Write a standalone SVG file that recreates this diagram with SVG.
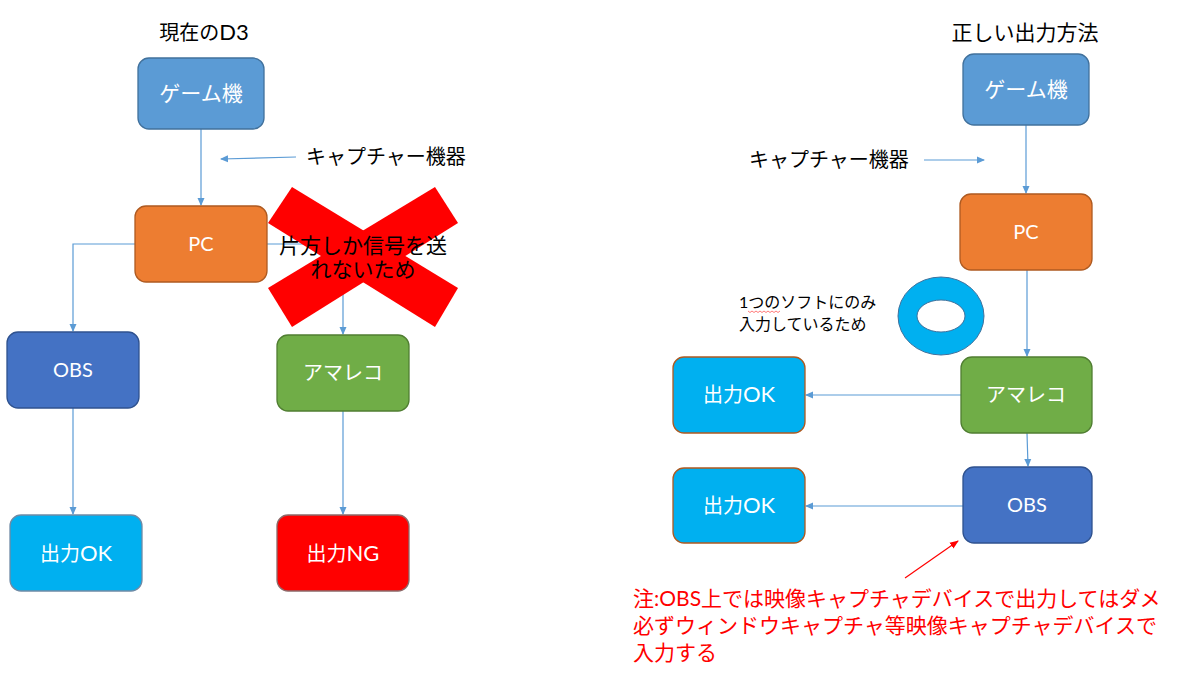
<svg xmlns="http://www.w3.org/2000/svg" width="1200" height="675" viewBox="0 0 1200 675">
<defs>
<marker id="ah" markerWidth="8" markerHeight="8" refX="7" refY="4" orient="auto" markerUnits="userSpaceOnUse">
<path d="M0,0.5 L8,4 L0,7.5 Z" fill="#5B9BD5"/>
</marker>
<marker id="ahr" markerWidth="9" markerHeight="8" refX="8" refY="4" orient="auto" markerUnits="userSpaceOnUse">
<path d="M0,0.5 L9,4 L0,7.5 Z" fill="#FF0000"/>
</marker>
</defs>
<style>
text{font-family:Lato,"Noto Sans CJK JP",sans-serif;}
.t{font-size:20px;fill:#000;}
.bx{font-size:20px;fill:#fff;text-anchor:middle;}
.bs{font-size:20px;fill:#fff;text-anchor:middle;}
.lat{font-size:22px;}
.c{fill:none;stroke:#5B9BD5;stroke-width:1.2;}
.game{fill:#5B9BD5;stroke:#41719C;stroke-width:1.3;}
.pc{fill:#ED7D31;stroke:#AE5A21;stroke-width:1.3;}
.obs{fill:#4472C4;stroke:#2F528F;stroke-width:1.3;}
.ama{fill:#70AD47;stroke:#507E32;stroke-width:1.3;}
.ok{fill:#00B0F0;stroke:#6F8AA5;stroke-width:1.3;}
.ok2{fill:#00B0F0;stroke:#AE5A21;stroke-width:1.3;}
.ng{fill:#FF0000;stroke:#8C6A6A;stroke-width:1.3;}
.note{font-size:21px;fill:#FF0000;}
</style>
<rect width="1200" height="675" fill="#fff"/>

<g id="connectors">
<line class="c" x1="201" y1="129" x2="201" y2="205" marker-end="url(#ah)"/>
<line class="c" x1="296" y1="157" x2="221" y2="159" marker-end="url(#ah)"/>
<polyline class="c" points="135,244 73,244 73,331" marker-end="url(#ah)"/>
<polyline class="c" points="267,244 343,244 343,334" marker-end="url(#ah)"/>
<line class="c" x1="73" y1="408" x2="73" y2="514" marker-end="url(#ah)"/>
<line class="c" x1="343" y1="411" x2="343" y2="514" marker-end="url(#ah)"/>

<line class="c" x1="1026" y1="125" x2="1026" y2="193" marker-end="url(#ah)"/>
<line class="c" x1="924" y1="160" x2="984" y2="160" marker-end="url(#ah)"/>
<line class="c" x1="1027" y1="270" x2="1027" y2="356" marker-end="url(#ah)"/>
<line class="c" x1="1027" y1="433" x2="1028" y2="466" marker-end="url(#ah)"/>
<line class="c" x1="961" y1="395" x2="806" y2="395" marker-end="url(#ah)"/>
<line class="c" x1="963" y1="506" x2="806" y2="506" marker-end="url(#ah)"/>
<line x1="905" y1="578" x2="958" y2="541" stroke="#FF0000" stroke-width="1.2" marker-end="url(#ahr)"/>
</g>

<text id="title-left" class="t" x="204" y="40" text-anchor="middle">現在の<tspan class="lat">D3</tspan></text>
<text id="title-right" class="t" x="1025" y="40" text-anchor="middle" style="font-size:21px">正しい出力方法</text>
<text id="cap-left" class="t" x="306" y="164">キャプチャー機器</text>
<text id="cap-right" class="t" x="749" y="167">キャプチャー機器</text>

<g id="game-left"><rect class="game" x="138" y="58" width="126" height="71" rx="11"/><text class="bx" x="201" y="101" style="font-size:21px">ゲーム機</text></g>
<g id="pc-left"><rect class="pc" x="135" y="206" width="132" height="76" rx="11"/><text class="bs" x="201" y="251">PC</text></g>
<g id="obs-left"><rect class="obs" x="7" y="332" width="132" height="76" rx="11"/><text class="bs" x="73" y="377">OBS</text></g>
<g id="ama-left"><rect class="ama" x="277" y="335" width="132" height="76" rx="11"/><text class="bx" x="343" y="380">アマレコ</text></g>
<g id="ok-left"><rect class="ok" x="10" y="515" width="132" height="76" rx="11"/><text class="bx" x="76" y="561">出力<tspan class="lat">OK</tspan></text></g>
<g id="ng-left"><rect class="ng" x="277" y="515" width="132" height="76" rx="11"/><text class="bx" x="343" y="561">出力<tspan class="lat">NG</tspan></text></g>

<g id="cross">
<polygon points="292,187 458,288 435,327 268,223" fill="#FF0000"/>
<polygon points="435,187 458,223 292,327 268,288" fill="#FF0000"/>
<text x="363" y="253" text-anchor="middle" style="font-size:21px;fill:#000">片方しか信号を送</text>
<text x="363" y="277" text-anchor="middle" style="font-size:21px;fill:#000">れないため</text>
</g>

<g id="game-right"><rect class="game" x="963" y="54" width="126" height="71" rx="11"/><text class="bx" x="1026" y="97" style="font-size:21px">ゲーム機</text></g>
<g id="pc-right"><rect class="pc" x="960" y="194" width="132" height="76" rx="11"/><text class="bs" x="1026" y="239">PC</text></g>
<g id="ama-right"><rect class="ama" x="961" y="357" width="131" height="76" rx="11"/><text class="bx" x="1026" y="402">アマレコ</text></g>
<g id="obs-right"><rect class="obs" x="963" y="467" width="129" height="76" rx="11"/><text class="bs" x="1027" y="512">OBS</text></g>
<g id="ok-right1"><rect class="ok2" x="673" y="357" width="132" height="76" rx="11"/><text class="bx" x="739" y="402">出力<tspan class="lat">OK</tspan></text></g>
<g id="ok-right2"><rect class="ok2" x="673" y="468" width="132" height="75" rx="11"/><text class="bx" x="739" y="513">出力<tspan class="lat">OK</tspan></text></g>

<g id="ring">
<path d="M898,316 a43,39 0 1,0 86,0 a43,39 0 1,0 -86,0 Z M917,316 a24,16 0 1,1 48,0 a24,16 0 1,1 -48,0 Z" fill="#00B0F0" fill-rule="evenodd" stroke="#41719C" stroke-width="1"/>
</g>
<g id="ring-note">
<text x="739" y="308" style="font-size:16px;fill:#000">1つのソフトにのみ</text>
<text x="739" y="330" style="font-size:16px;fill:#000">入力しているため</text>
<path d="M748,311 l2,1.5 l2,-1.5 l2,1.5 l2,-1.5 l2,1.5 l2,-1.5 l2,1.5 l2,-1.5 l2,1.5 l2,-1.5 l2,1.5 l2,-1.5 l2,1.5 l2,-1.5 l2,1.5 l2,-1.5" fill="none" stroke="#FF4040" stroke-width="0.7"/>
</g>

<g id="note">
<text class="note" x="633" y="606">注:OBS上では映像キャプチャデバイスで出力してはダメ</text>
<text class="note" x="633" y="633">必ずウィンドウキャプチャ等映像キャプチャデバイスで</text>
<text class="note" x="633" y="660">入力する</text>
</g>
</svg>
